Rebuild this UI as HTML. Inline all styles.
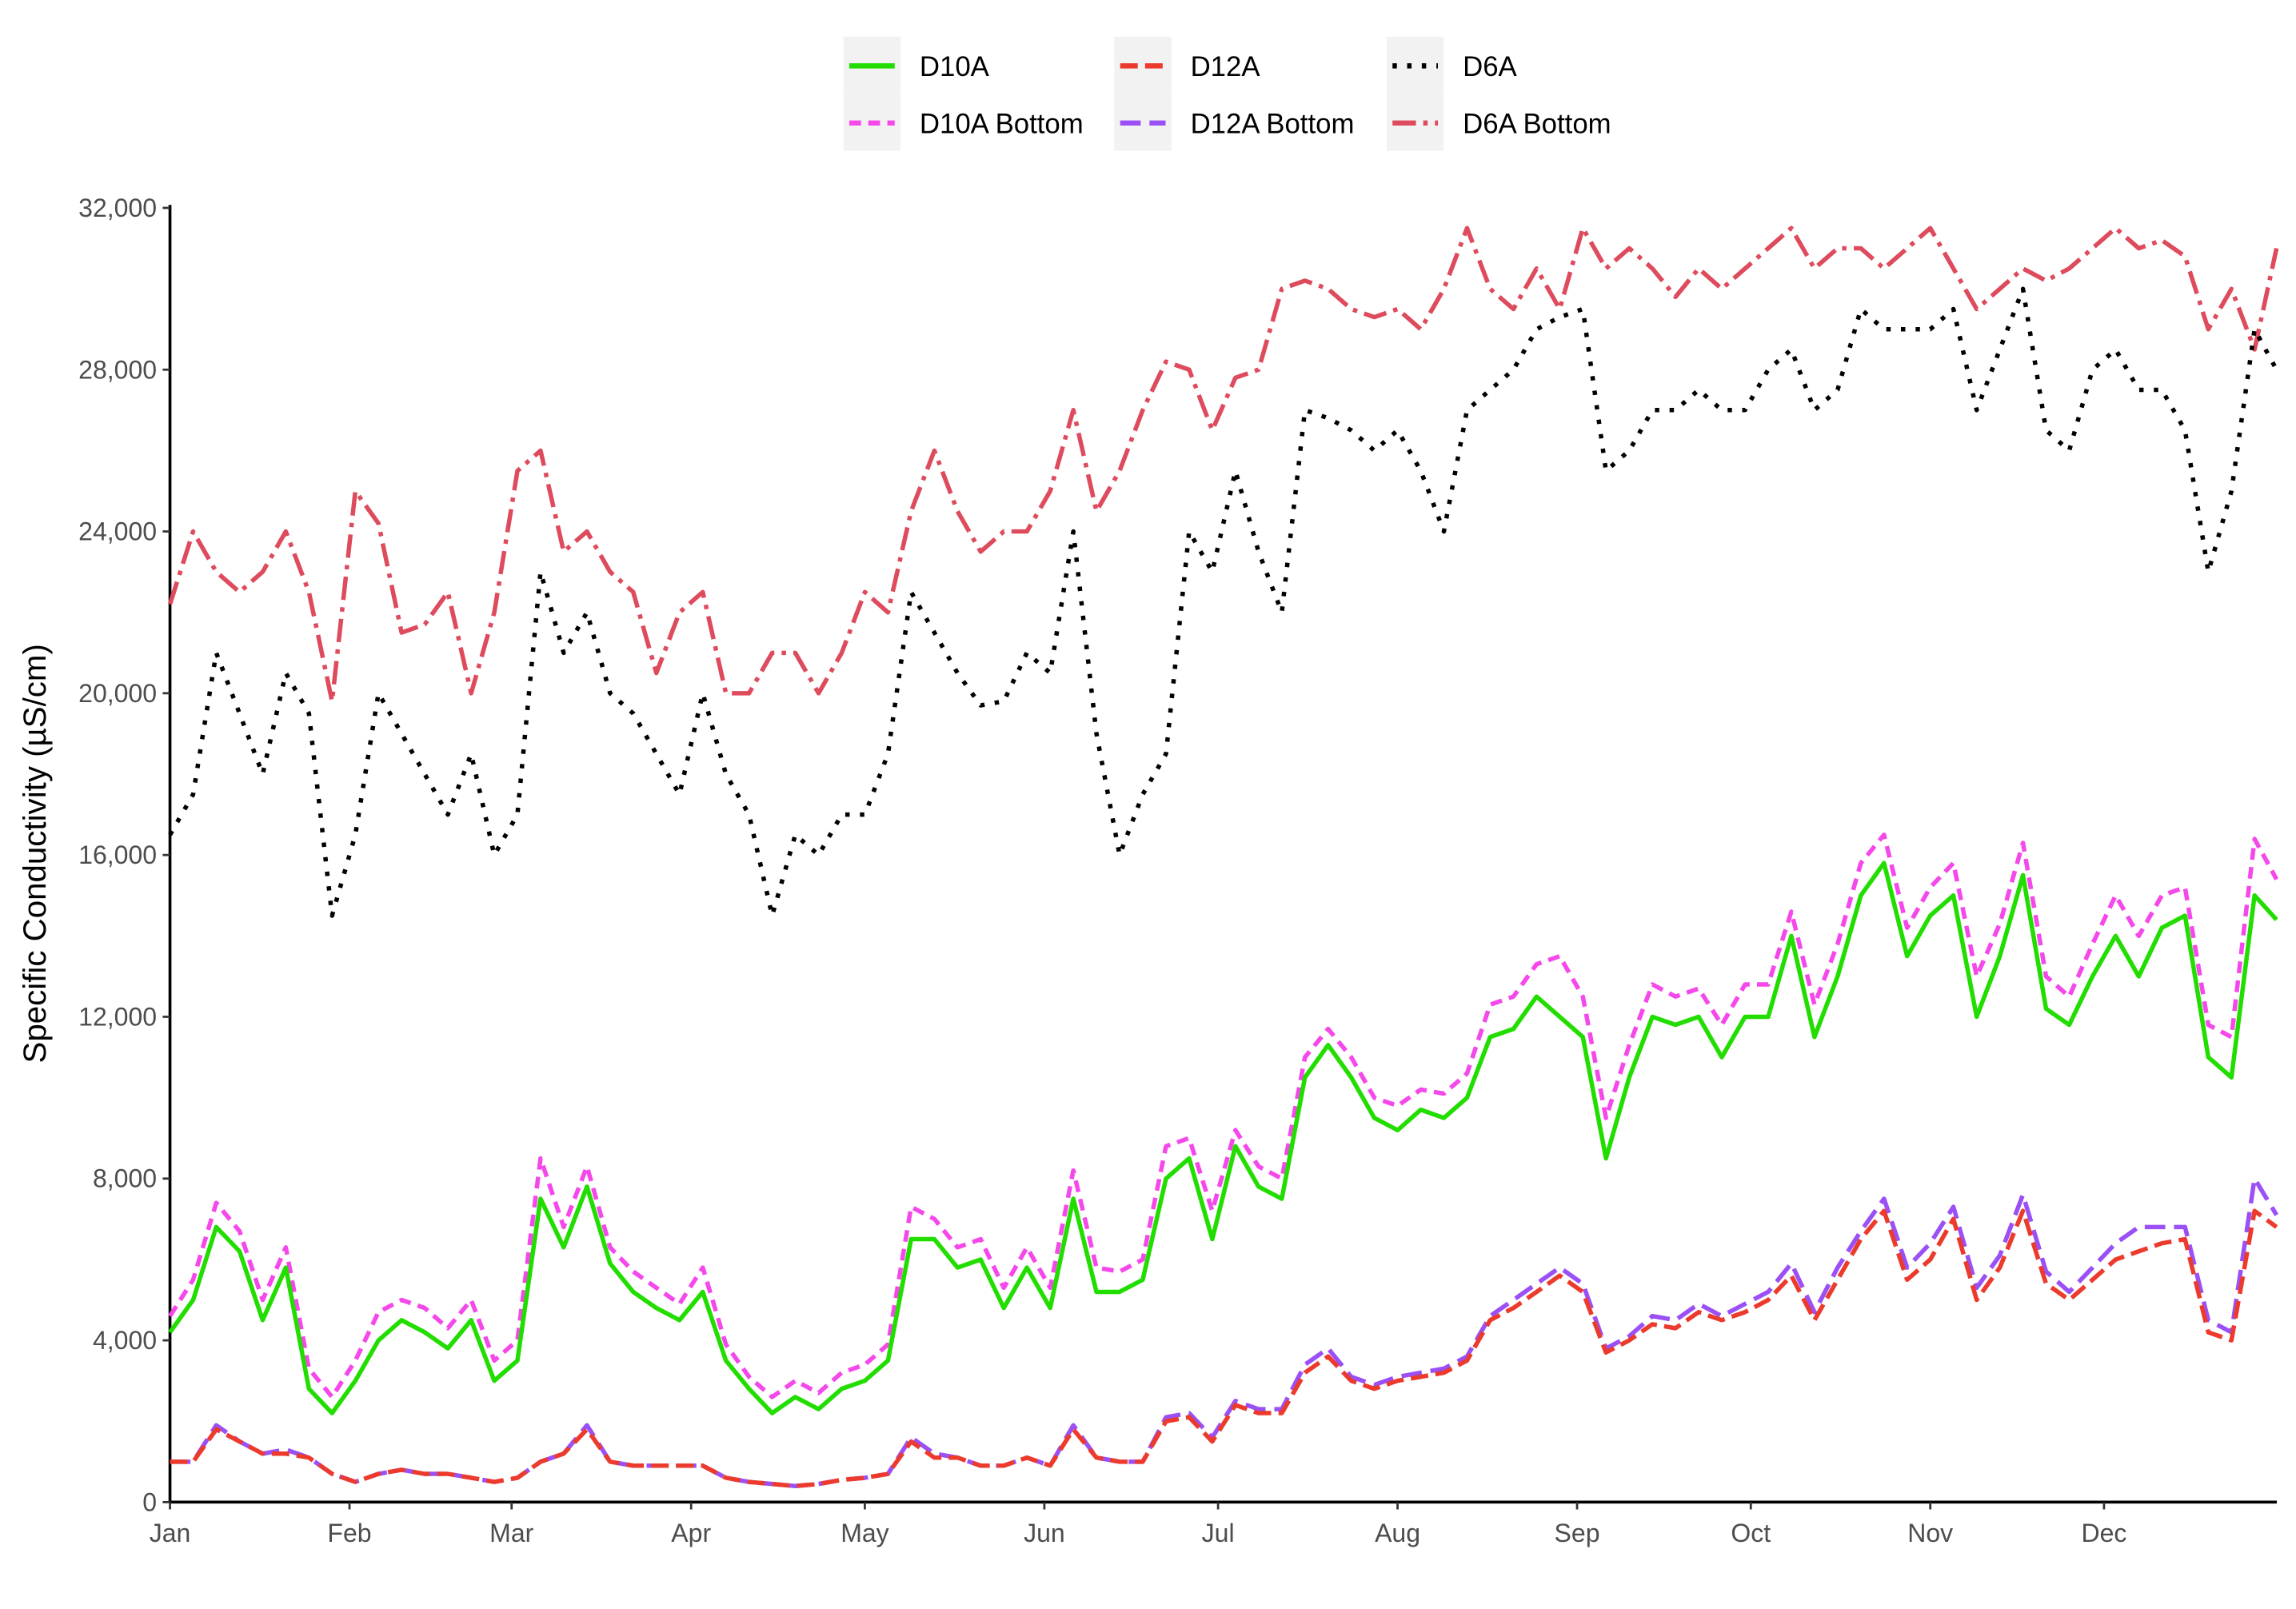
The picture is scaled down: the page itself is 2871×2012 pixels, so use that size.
<!DOCTYPE html>
<html><head><meta charset="utf-8"><style>
html,body{margin:0;padding:0;background:#fff}
svg{display:block;font-family:"Liberation Sans",Arial,sans-serif}
</style></head><body>
<svg id="chart" width="2871" height="2012" viewBox="0 0 1568 1099" xmlns="http://www.w3.org/2000/svg">
<g id="legend"></g>
<g id="yaxis"></g>
<g id="xaxis"></g>
<g id="series"></g>
<text x="0" y="0" transform="translate(31,583) rotate(-90)" text-anchor="middle" font-size="22" fill="#000">Specific Conductivity (µS/cm)</text>
</svg>
<script>
const monthLabels=["Jan","Feb","Mar","Apr","May","Jun","Jul","Aug","Sep","Oct","Nov","Dec"];
const monthDays=[0,31,59,90,120,151,181,212,243,273,304,334];
const yTicks=[0,4000,8000,12000,16000,20000,24000,28000,32000];
const sampleStep=4;
const d6aBottom=[22200,24000,23000,22500,23000,24000,22500,19800,25000,24200,21500,21700,22500,20000,22000,25500,26000,23500,24000,23000,22500,20500,22000,22500,20000,20000,21000,21000,20000,21000,22500,22000,24500,26000,24500,23500,24000,24000,25000,27000,24500,25500,27000,28200,28000,26500,27800,28000,30000,30200,30000,29500,29300,29500,29000,30000,31500,30000,29500,30500,29500,31500,30500,31000,30500,29800,30500,30000,30500,31000,31500,30500,31000,31000,30500,31000,31500,30500,29500,30000,30500,30200,30500,31000,31500,31000,31200,30800,29000,30000,28500,31000];
const d6a=[16500,17500,21000,19500,18000,20500,19500,14500,16500,20000,19000,18000,17000,18500,16000,17000,23000,21000,22000,20000,19500,18500,17500,20000,18000,17000,14500,16500,16000,17000,17000,18500,22500,21500,20500,19700,19800,21000,20500,24000,19000,16000,17500,18500,24000,23000,25500,23500,22000,27000,26800,26500,26000,26500,25500,24000,27000,27500,28000,29000,29300,29500,25500,26000,27000,27000,27500,27000,27000,28000,28500,27000,27500,29500,29000,29000,29000,29500,27000,28500,30000,26500,26000,28000,28500,27500,27500,26500,23000,25000,29000,28000];
const d10a=[4200,5000,6800,6200,4500,5800,2800,2200,3000,4000,4500,4200,3800,4500,3000,3500,7500,6300,7800,5900,5200,4800,4500,5200,3500,2800,2200,2600,2300,2800,3000,3500,6500,6500,5800,6000,4800,5800,4800,7500,5200,5200,5500,8000,8500,6500,8800,7800,7500,10500,11300,10500,9500,9200,9700,9500,10000,11500,11700,12500,12000,11500,8500,10500,12000,11800,12000,11000,12000,12000,14000,11500,13000,15000,15800,13500,14500,15000,12000,13500,15500,12200,11800,13000,14000,13000,14200,14500,11000,10500,15000,14400];
const d10aBottom=[4600,5500,7400,6700,5000,6300,3300,2600,3500,4700,5000,4800,4300,5000,3500,4000,8500,6800,8300,6300,5700,5300,4900,5800,3900,3100,2600,3000,2700,3200,3400,3900,7300,7000,6300,6500,5300,6300,5300,8200,5800,5700,6000,8800,9000,7200,9200,8300,8000,11000,11700,11000,10000,9800,10200,10100,10600,12300,12500,13300,13500,12500,9500,11300,12800,12500,12700,11800,12800,12800,14600,12300,13800,15800,16500,14200,15200,15800,13000,14300,16300,13000,12500,13800,15000,14000,15000,15200,11800,11500,16400,15400];
const d12a=[1000,1000,1800,1500,1200,1200,1100,700,500,700,800,700,700,600,500,600,1000,1200,1800,1000,900,900,900,900,600,500,450,400,450,550,600,700,1500,1100,1100,900,900,1100,900,1800,1100,1000,1000,2000,2100,1500,2400,2200,2200,3200,3600,3000,2800,3000,3100,3200,3500,4500,4800,5200,5600,5200,3700,4000,4400,4300,4700,4500,4700,5000,5600,4500,5500,6500,7200,5500,6000,7000,5000,5800,7200,5400,5000,5500,6000,6200,6400,6500,4200,4000,7200,6800];
const d12aBottom=[1000,1000,1900,1500,1200,1300,1100,700,500,700,800,700,700,600,500,600,1000,1200,1900,1000,900,900,900,900,600,500,450,400,450,550,600,700,1600,1200,1100,900,900,1100,900,1900,1100,1000,1000,2100,2200,1600,2500,2300,2300,3400,3800,3100,2900,3100,3200,3300,3600,4600,5000,5400,5800,5400,3800,4100,4600,4500,4900,4600,4900,5200,5900,4700,5800,6700,7500,5800,6400,7300,5300,6100,7600,5700,5200,5800,6400,6800,6800,6800,4500,4200,8000,7100];

const NS="http://www.w3.org/2000/svg";
const X0=116,X1=1555,Y0=1026,Y1=142,PD=3.955;
const xS=d=>X0+d*PD;
const yS=v=>Y0-(v/32000)*(Y0-Y1);
function mk(tag,attrs,parent){const e=document.createElementNS(NS,tag);for(const k in attrs)e.setAttribute(k,attrs[k]);parent.appendChild(e);return e;}
const yA=document.getElementById('yaxis'),xA=document.getElementById('xaxis'),sG=document.getElementById('series'),lg=document.getElementById('legend');
mk('line',{x1:X0,y1:Y1-2,x2:X0,y2:Y0,stroke:'#000','stroke-width':2},yA);
mk('line',{x1:X0,y1:Y0,x2:X1,y2:Y0,stroke:'#000','stroke-width':2},xA);
yTicks.forEach(v=>{
 const t=mk('line',{x1:X0-5,x2:X0,y1:yS(v),y2:yS(v),stroke:'#333','stroke-width':1.5},yA);
 
 
 const l=mk('text',{x:X0-9,y:yS(v)+6,'text-anchor':'end','font-size':17.5,fill:'#4d4d4d'},yA);
 l.textContent=v.toLocaleString('en-US');
 
 
});
monthLabels.forEach((m,i)=>{
 const x=xS(monthDays[i]);
 const t=mk('line',{x1:x,x2:x,y1:Y0,y2:Y0+5,stroke:'#333','stroke-width':1.5},xA);
 
 
 const l=mk('text',{x:x,y:Y0+27,'text-anchor':'middle','font-size':17.5,fill:'#4d4d4d'},xA);
 l.textContent=m;
 
 
});
const seriesDefs=[
 {name:'D6A Bottom',data:d6aBottom,color:'#dd4b5d',dash:'16,5,3,5',key:'d6a-bottom'},
 {name:'D6A',data:d6a,color:'#000',dash:'3,7',key:'d6a'},
 {name:'D10A Bottom',data:d10aBottom,color:'#f548ea',dash:'8,5',key:'d10a-bottom'},
 {name:'D10A',data:d10a,color:'#22dd00',dash:'',key:'d10a'},
 {name:'D12A Bottom',data:d12aBottom,color:'#9a50f5',dash:'14,6',key:'d12a-bottom'},
 {name:'D12A',data:d12a,color:'#ec3a2c',dash:'12,5',key:'d12a'}
];
seriesDefs.forEach(s=>{
 const pts=s.data.map((v,i)=>xS(Math.min(i*sampleStep,363.8)).toFixed(1)+','+yS(v).toFixed(1)).join(' ');
 const p=mk('polyline',{points:pts,fill:'none',stroke:s.color,'stroke-width':3,'stroke-dasharray':s.dash,'stroke-linejoin':'round'},sG);
 
 
});
const legendItems=[
 {label:'D10A',color:'#22dd00',dash:'',col:0,row:0},
 {label:'D10A Bottom',color:'#f548ea',dash:'8,5',col:0,row:1},
 {label:'D12A',color:'#ec3a2c',dash:'12,5',col:1,row:0},
 {label:'D12A Bottom',color:'#9a50f5',dash:'14,6',col:1,row:1},
 {label:'D6A',color:'#000',dash:'3,7',col:2,row:0},
 {label:'D6A Bottom',color:'#dd4b5d',dash:'16,5,3,5',col:2,row:1}
];
const colX=[576,761,947];
legendItems.forEach(it=>{
 const x=colX[it.col],y=25+it.row*39;
 const g=mk('g',{},lg);
 
 
 mk('rect',{x:x,y:y,width:39,height:39,fill:'#f2f2f2'},g);
 mk('line',{x1:x+4,x2:x+35,y1:y+20,y2:y+20,stroke:it.color,'stroke-width':3.5,'stroke-dasharray':it.dash},g);
 const t=mk('text',{x:x+52,y:y+27,'font-size':19,fill:'#000'},g);
 t.textContent=it.label;
});
</script>
</body></html>
